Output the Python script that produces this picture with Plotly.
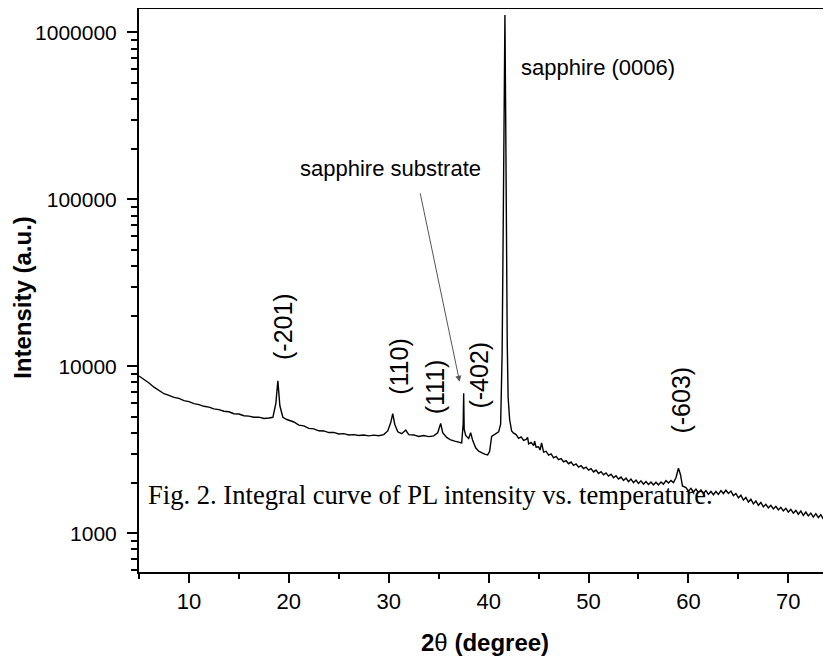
import plotly.graph_objects as go

# 2theta (degree) and intensity (a.u.)
two_theta = [
    5.0, 5.5, 6.0, 6.5, 7.0, 7.5, 8.0, 8.5, 9.0, 9.5, 10.0, 10.5, 11.0, 11.5, 12.0, 12.5,
    13.0, 13.5, 14.0, 14.5, 15.0, 15.5, 16.0, 16.5, 17.0, 17.5, 18.0, 18.4, 18.7, 18.9,
    19.1, 19.4, 19.8, 20.5, 21.0, 21.5, 22.0, 22.5, 23.0, 23.5, 24.0, 24.5, 25.0, 25.5,
    26.0, 26.5, 27.0, 27.5, 28.0, 28.5, 29.0, 29.5, 29.9, 30.2, 30.4, 30.6, 30.9, 31.3,
    31.7, 32.0, 32.5, 33.0, 33.5, 34.0, 34.5, 34.9, 35.2, 35.4, 35.8, 36.2, 36.6, 37.0,
    37.3, 37.45, 37.5, 37.55, 37.7, 38.0, 38.2, 38.4, 38.7, 39.0, 39.3, 39.6, 39.9, 40.1,
    40.3, 40.6, 41.0, 41.2, 41.35, 41.45, 41.55, 41.63, 41.7, 41.78, 41.86, 41.95, 42.1,
    42.3, 42.5, 42.75, 43.0, 43.25, 43.5, 43.75, 43.9, 44.0, 44.25, 44.5, 44.6, 44.75,
    45.0, 45.15, 45.3, 45.5, 45.75, 46.0, 46.25, 46.5, 46.75, 47.0, 47.25, 47.5, 47.75,
    48.0, 48.25, 48.5, 48.75, 49.0, 49.25, 49.5, 49.75, 50.0, 50.25, 50.5, 50.75, 51.0,
    51.25, 51.5, 51.75, 52.0, 52.25, 52.5, 52.75, 53.0, 53.25, 53.5, 53.75, 54.0, 54.25,
    54.5, 54.75, 55.0, 55.25, 55.5, 55.75, 56.0, 56.25, 56.5, 56.75, 57.0, 57.25, 57.5,
    57.75, 58.0, 58.25, 58.5, 58.75, 59.0, 59.2, 59.4, 59.75, 60.0, 60.25, 60.5, 60.75,
    61.0, 61.25, 61.5, 61.75, 62.0, 62.25, 62.5, 62.75, 63.0, 63.25, 63.5, 63.75, 64.0,
    64.25, 64.5, 64.75, 65.0, 65.25, 65.5, 65.75, 66.0, 66.25, 66.5, 66.75, 67.0, 67.25,
    67.5, 67.75, 68.0, 68.25, 68.5, 68.75, 69.0, 69.25, 69.5, 69.75, 70.0, 70.25, 70.5,
    70.75, 71.0, 71.25, 71.5, 71.75, 72.0, 72.25, 72.5, 72.75, 73.0, 73.25, 73.5, 73.75,
    74.0, 74.25,
]
intensity = [
    8750, 8350, 7950, 7500, 7150, 6850, 6700, 6520, 6420, 6230, 6150, 5980, 5900, 5760, 5700, 5560,
    5500, 5380, 5340, 5200, 5180, 5060, 5030, 4950, 4960, 4870, 4900, 4950, 6000, 8200,
    5800, 4950, 4800, 4640, 4440, 4400, 4250, 4220, 4110, 4100, 4010, 4020, 3930, 3950,
    3880, 3900, 3850, 3880, 3830, 3870, 3840, 3900, 4100, 4600, 5200, 4500, 4050, 3950,
    4150, 3900, 3880, 3800, 3850, 3790, 3830, 4000, 4550, 4000, 3750, 3620, 3560, 3500,
    3480, 4500, 6900, 4200, 3850, 3700, 4000, 3600, 3250, 3100, 3030, 2980, 2950, 3100,
    3800, 3900, 4050, 4500, 12000, 60000, 400000, 1270000, 350000, 50000, 14000, 6500, 4800,
    4100, 3980, 3900, 3700, 3780, 3600, 3650, 3750, 3430, 3500, 3350, 3560, 3280,
    3300, 3150, 3480, 3060, 3100, 2940, 2990, 2830, 2890, 2760, 2800, 2680, 2720,
    2610, 2670, 2550, 2600, 2490, 2540, 2440, 2490, 2390, 2440, 2330, 2390, 2280,
    2340, 2240, 2300, 2200, 2260, 2150, 2210, 2110, 2170, 2070, 2140, 2040, 2110,
    2010, 2080, 1990, 2060, 1970, 2040, 1960, 2030, 1950, 2020, 1950, 2030, 1970,
    2070, 2000, 2070, 2010, 2150, 2450, 2250, 1920, 1880, 1790, 1860, 1770, 1840,
    1750, 1820, 1730, 1800, 1710, 1780, 1700, 1780, 1710, 1800, 1730, 1810, 1730,
    1790, 1680, 1730, 1630, 1690, 1580, 1640, 1540, 1600, 1500, 1560, 1470, 1530,
    1440, 1490, 1420, 1470, 1400, 1450, 1380, 1430, 1360, 1410, 1340, 1390, 1320,
    1370, 1300, 1360, 1280, 1340, 1270, 1320, 1250, 1310, 1240, 1290, 1220, 1280,
    1210, 1260,
]

x_ticks = [10, 20, 30, 40, 50, 60, 70]
x_minor = [5, 15, 25, 35, 45, 55, 65, 75]
y_ticks = [1000, 10000, 100000, 1000000]
y_ticktext = ["1000", "10000", "100000", "1000000"]
y_minor = [600, 700, 800, 900] + [m * 10 ** e for e in (3, 4, 5) for m in range(2, 10)]

# peak labels: text, x (deg), log10 y of label centre
peak_labels = ["(-201)", "(110)", "(111)", "(-402)", "(-603)"]
peak_x = [19.34, 30.94, 34.59, 38.99, 59.21]
peak_ylog = [4.237, 3.998, 3.878, 3.948, 3.798]

x_title = "<b>2</b>θ<b> (degree)</b>"
y_title = "<b>Intensity (a.u.)</b>"

fig = go.Figure()
fig.add_trace(go.Scatter(x=two_theta, y=intensity, mode="lines",
                         line=dict(color="black", width=1.4), showlegend=False))

annotations = []
for t, px, py in zip(peak_labels, peak_x, peak_ylog):
    annotations.append(dict(x=px, y=py, xref="x", yref="y", text=t, showarrow=False,
                            textangle=-90, font=dict(family="Liberation Sans, Arial", size=25, color="black"),
                            xanchor="center", yanchor="middle"))

annotations.append(dict(x=43.0, y=5.792, xref="x", yref="y", text="sapphire (0006)", showarrow=False,
                        xanchor="left", yanchor="middle",
                        font=dict(family="Liberation Sans, Arial", size=22, color="black")))
annotations.append(dict(x=30.13, y=5.187, xref="x", yref="y", text="sapphire substrate", showarrow=False,
                        xanchor="center", yanchor="middle",
                        font=dict(family="Liberation Sans, Arial", size=22, color="black")))
annotations.append(dict(x=37.09, y=3.908, xref="x", yref="y", ax=33.12, ay=5.045, axref="x", ayref="y",
                        text="", showarrow=True, arrowhead=2, arrowsize=1.2, arrowwidth=1,
                        arrowcolor="#555555"))
annotations.append(dict(x=5.66, y=3.229, xref="x", yref="y",
                        text="Fig. 2. Integral curve of PL intensity vs. temperature.", showarrow=False,
                        xanchor="left", yanchor="middle",
                        font=dict(family="Liberation Serif, Times New Roman", size=26.6, color="black")))
# axis titles
annotations.append(dict(x=0.5, y=-0.126, xref="paper", yref="paper", text=x_title, showarrow=False,
                        xanchor="center", yanchor="middle",
                        font=dict(family="Liberation Sans, Arial", size=24, color="black")))
annotations.append(dict(x=-0.1676, y=0.487, xref="paper", yref="paper", text=y_title, showarrow=False,
                        textangle=-90, xanchor="center", yanchor="middle",
                        font=dict(family="Liberation Sans, Arial", size=24, color="black")))

fig.update_layout(
    width=823, height=651,
    margin=dict(l=131, r=0, t=1, b=87),
    paper_bgcolor="white", plot_bgcolor="white",
    font=dict(family="Liberation Sans, Arial", color="black"),
    annotations=annotations,
    xaxis=dict(
        range=[5, 74.27], tickvals=x_ticks, ticks="outside", ticklen=9, tickwidth=1.5,
        tickcolor="black", showline=True, linecolor="black", linewidth=2, mirror=True,
        showgrid=False, zeroline=False, tickfont=dict(size=22), automargin=False,
        minor=dict(tickvals=x_minor, ticks="outside", ticklen=5, tickwidth=1.5, tickcolor="black", showgrid=False),
    ),
    yaxis=dict(
        type="log", range=[2.768, 6.14], tickvals=y_ticks, ticktext=y_ticktext,
        ticks="outside", ticklen=10, tickwidth=1.5, tickcolor="black", ticklabelstandoff=6,
        showline=True, linecolor="black", linewidth=2, showgrid=False, zeroline=False,
        tickfont=dict(size=21), automargin=False,
        minor=dict(tickvals=y_minor, ticks="outside", ticklen=6, tickwidth=1.5, tickcolor="black", showgrid=False),
    ),
)

fig.write_html("out.html")
